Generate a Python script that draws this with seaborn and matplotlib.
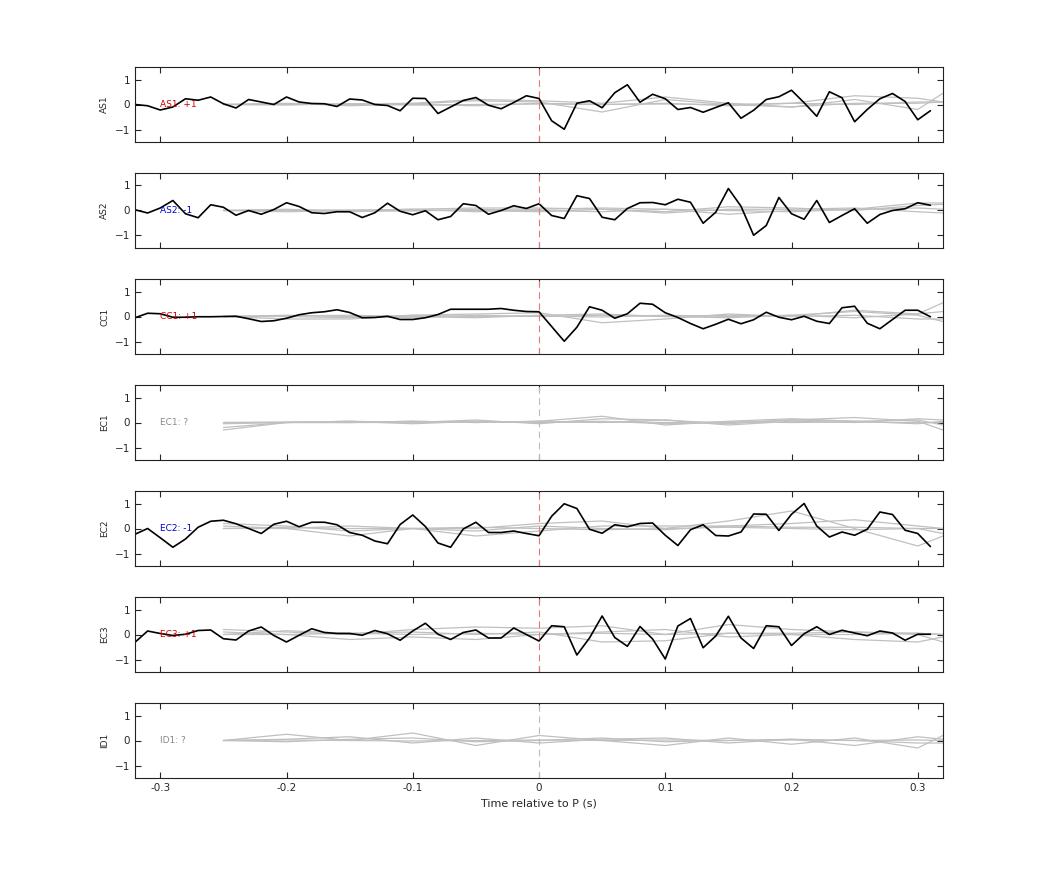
import numpy as np
import matplotlib
matplotlib.use("Agg")
import matplotlib.pyplot as plt
import seaborn as sns

sns.set_style("white")
plt.rcParams['font.family'] = ['DejaVu Sans']

t_black = np.round(np.arange(-0.32, 0.315, 0.01), 2)
t_gray = [-0.25, -0.2, -0.15, -0.1, -0.05, 0.0, 0.05, 0.1, 0.15, 0.2, 0.25, 0.3, 0.32]

channels = ["AS1", "AS2", "CC1", "EC1", "EC2", "EC3", "ID1"]
labels = ["AS1: +1", "AS2: -1", "CC1: +1", "EC1: ?", "EC2: -1", "EC3: +1", "ID1: ?"]
label_colors = ["#d00000", "#0000d0", "#d00000", "#888888", "#0000d0", "#d00000", "#888888"]

AS1 = [0, -0.05, -0.22, -0.1, 0.23, 0.17, 0.3, 0.03, -0.14, 0.2, 0.1, 0.0, 0.3, 0.1, 0.04, 0.03,
       -0.08, 0.22, 0.18, 0, -0.04, -0.25, 0.25, 0.24, -0.36, -0.1, 0.16, 0.28, -0.03, -0.17, 0.08, 0.35,
       0.24, -0.65, -0.99, 0.05, 0.15, -0.13, 0.47, 0.79, 0.09, 0.41, 0.23, -0.2, -0.12, -0.31, -0.12, 0.07,
       -0.55, -0.23, 0.2, 0.31, 0.57, 0.07, -0.47, 0.51, 0.27, -0.69, -0.2, 0.23, 0.44, 0.12, -0.61, -0.25]
AS2 = [0.03, -0.1, 0.1, 0.4, -0.13, -0.29, 0.23, 0.13, -0.19, 0, -0.15, 0.04, 0.31, 0.16, -0.09, -0.12,
       -0.05, -0.05, -0.28, -0.09, 0.29, -0.03, -0.17, -0.01, -0.37, -0.24, 0.27, 0.2, -0.15, 0, 0.19, 0.08,
       0.27, -0.2, -0.32, 0.59, 0.48, -0.27, -0.37, 0.08, 0.31, 0.32, 0.23, 0.45, 0.33, -0.51, -0.07, 0.88,
       0.17, -0.99, -0.6, 0.52, -0.13, -0.35, 0.4, -0.48, -0.2, 0.07, -0.51, -0.16, 0, 0.07, 0.31, 0.21]
CC1 = [-0.05, 0.13, 0.11, -0.03, -0.03, -0.01, -0.01, 0, 0.01, -0.09, -0.2, -0.17, -0.07, 0.07, 0.15, 0.19,
       0.27, 0.16, -0.05, -0.04, 0.01, -0.12, -0.12, -0.05, 0.08, 0.29, 0.29, 0.29, 0.29, 0.32, 0.25, 0.2,
       0.19, -0.4, -0.99, -0.43, 0.39, 0.25, -0.07, 0.11, 0.53, 0.49, 0.15, -0.04, -0.28, -0.49, -0.31, -0.11,
       -0.29, -0.13, 0.17, -0.03, -0.13, 0.01, -0.19, -0.28, 0.35, 0.41, -0.27, -0.49, -0.12, 0.25, 0.25, -0.01]
EC2 = [-0.23, 0, -0.37, -0.75, -0.42, 0.05, 0.29, 0.33, 0.19, 0, -0.2, 0.17, 0.29, 0.07, 0.25, 0.25,
       0.15, -0.16, -0.27, -0.5, -0.61, 0.16, 0.54, 0.08, -0.58, -0.75, -0.02, 0.25, -0.16, -0.16, -0.1, -0.2,
       -0.29, 0.49, 0.99, 0.8, -0.03, -0.19, 0.15, 0.07, 0.2, 0.22, -0.27, -0.68, -0.05, 0.15, -0.28, -0.3,
       -0.14, 0.58, 0.57, -0.08, 0.57, 1.0, 0.1, -0.34, -0.14, -0.27, -0.03, 0.66, 0.56, -0.07, -0.2, -0.72]
EC3 = [-0.31, 0.14, 0.04, -0.04, 0.01, 0.16, 0.18, -0.17, -0.22, 0.14, 0.3, -0.04, -0.3, -0.03, 0.23, 0.08,
       0.04, 0.04, -0.03, 0.16, 0.03, -0.23, 0.14, 0.45, 0.01, -0.2, 0.08, 0.18, -0.14, -0.14, 0.26, 0,
       -0.26, 0.35, 0.31, -0.82, -0.14, 0.74, -0.12, -0.47, 0.32, -0.18, -0.98, 0.34, 0.64, -0.53, -0.06, 0.73,
       -0.14, -0.56, 0.35, 0.31, -0.44, 0.03, 0.31, 0, 0.17, 0.06, -0.05, 0.14, 0.06, -0.23, 0.01, 0.01]
black = {"AS1": AS1, "AS2": AS2, "CC1": CC1, "EC2": EC2, "EC3": EC3}

gray = {
    "AS1": [[0, 0.05, -0.05, 0.02, 0.15, 0.1, -0.3, 0.2, 0, -0.1, 0.2, -0.2, 0.45],
            [0, -0.02, 0.03, 0, -0.05, 0.05, 0.0, 0.05, -0.05, 0.05, 0.35, 0.25, 0.1],
            [0, 0, 0.02, 0.05, 0.2, 0.15, 0.05, 0.3, 0.05, -0.1, 0.05, 0.05, 0.1],
            [0, 0.02, 0, -0.02, 0, 0.02, 0, 0.02, 0, 0.05, 0.0, 0.1, 0.1]],
    "AS2": [[0, 0.02, 0, 0.05, 0.1, 0.1, 0.05, -0.05, 0.15, 0.1, 0.0, 0.2, 0.25],
            [0, -0.05, 0, 0.05, -0.05, 0.05, 0.1, 0.05, -0.15, 0.0, 0.05, 0.3, 0.3],
            [0, 0.05, -0.05, 0, 0.0, -0.05, 0.05, -0.1, 0.05, 0.05, 0.1, -0.05, -0.1],
            [0, 0, 0.02, -0.02, 0.05, 0, -0.05, 0.05, 0, -0.05, 0.05, 0.1, 0.05]],
    "CC1": [[0, -0.1, -0.1, 0.05, 0.1, 0.15, -0.25, -0.1, 0.1, 0.0, 0.25, 0.1, 0.55],
            [0, 0.02, 0.05, 0, -0.05, 0.05, 0.1, 0, -0.05, 0.05, 0.2, 0.05, -0.2],
            [0, 0, -0.05, 0.05, 0, 0.02, -0.02, 0.05, 0, 0.05, -0.05, 0.1, 0.2],
            [0, 0.05, 0, -0.05, 0.05, 0, 0.05, 0, 0.05, 0, 0.05, -0.1, -0.1]],
    "EC1": [[-0.3, 0.0, 0.05, 0.0, 0.1, -0.05, 0.15, 0.1, -0.05, 0.1, 0.2, 0.05, -0.3],
            [-0.2, 0.0, 0.0, 0.05, 0.0, 0.05, 0.25, -0.1, 0.05, 0.15, 0.05, 0.1, -0.1],
            [-0.05, 0.0, 0.05, -0.05, 0.05, 0.0, 0.05, -0.05, 0.0, 0.1, 0.05, -0.05, 0.05],
            [0, 0, 0, 0.05, 0, 0.05, 0, 0.1, -0.1, 0.05, 0.0, 0.15, 0.1],
            [0, 0.02, 0, 0, 0.02, 0, 0.02, 0, 0.02, 0, 0.02, 0, 0]],
    "EC2": [[0.2, 0.1, -0.1, 0.0, 0.0, 0.2, 0.3, 0.0, 0.3, 0.7, 0.0, -0.7, -0.3],
            [0.1, 0.0, -0.3, 0.0, -0.3, -0.1, 0.1, 0.1, 0.1, 0.2, 0.35, 0.1, 0.0],
            [0.0, 0.0, 0.1, 0.0, -0.1, 0.1, 0.0, -0.05, 0.1, 0.05, 0.05, 0.0, -0.2],
            [0, 0.05, 0, 0, 0.05, 0, -0.05, 0, 0.05, 0, -0.05, 0, 0]],
    "EC3": [[0.2, 0.1, 0.0, 0.2, 0.3, 0.25, 0.35, 0.0, 0.4, 0.2, 0.1, 0.0, -0.3],
            [0.1, 0.0, -0.2, -0.1, -0.2, 0.0, 0.1, 0.2, -0.1, 0.0, -0.2, -0.3, -0.1],
            [0.0, 0.15, 0.05, 0.1, 0.0, 0.1, -0.3, -0.25, 0.05, 0.05, 0.1, 0.05, 0.0],
            [0, 0, 0.05, 0, 0.05, 0, 0.05, 0, 0.05, 0, 0.0, 0.05, 0]],
    "ID1": [[0.0, 0.25, 0.0, 0.3, -0.2, 0.2, 0.0, -0.2, 0.1, -0.15, 0.1, -0.3, 0.2],
            [0.0, 0.05, 0.15, -0.1, 0.1, -0.1, 0.05, 0.1, -0.1, 0.05, -0.2, 0.15, 0.05],
            [0.0, -0.05, 0.05, 0.1, -0.05, 0.0, 0.1, -0.05, 0.0, 0.05, 0.0, -0.1, -0.1],
            [0, 0.02, 0, -0.02, 0, 0.02, 0, 0.02, 0, 0.02, 0, 0.02, 0]],
}

fig = plt.figure(figsize=(10.42, 8.75), dpi=100)
W, H = 1042, 875
left, right = 135 / W, 943 / W
for i, ch in enumerate(channels):
    bottom_px = 142 + 106 * i
    ax = fig.add_axes([left, 1 - bottom_px / H, right - left, 75 / H])
    for g in gray[ch]:
        sns.lineplot(x=t_gray, y=g, ax=ax, color="#c0c0c0", lw=0.9)
    if ch in black:
        sns.lineplot(x=t_black, y=black[ch], ax=ax, color="black", lw=1.2)
    dash_col = "#e87878" if label_colors[i] != "#888888" else "#bbbbbb"
    ax.axvline(0, color=dash_col, lw=0.8, ls=(0, (6, 4)))
    ax.text(-0.3, 0, labels[i], color=label_colors[i], fontsize=6.5, va="center")
    ax.set_xlim(-0.32, 0.32)
    ax.set_ylim(-1.5, 1.5)
    ax.set_yticks([-1, 0, 1])
    ax.set_xticks([-0.3, -0.2, -0.1, 0, 0.1, 0.2, 0.3])
    ax.tick_params(direction="in", top=True, right=True, bottom=True, left=True,
                   labelsize=7.5, length=4, width=0.8)
    for s in ax.spines.values():
        s.set_color("#222222"); s.set_linewidth(0.8)
    ax.set_ylabel(ch, fontsize=6.5)
    if i < len(channels) - 1:
        ax.set_xticklabels([])
    else:
        ax.set_xticklabels(["-0.3", "-0.2", "-0.1", "0", "0.1", "0.2", "0.3"])
        ax.set_xlabel("Time relative to P (s)", fontsize=8)

fig.savefig("out.png", dpi=100)
